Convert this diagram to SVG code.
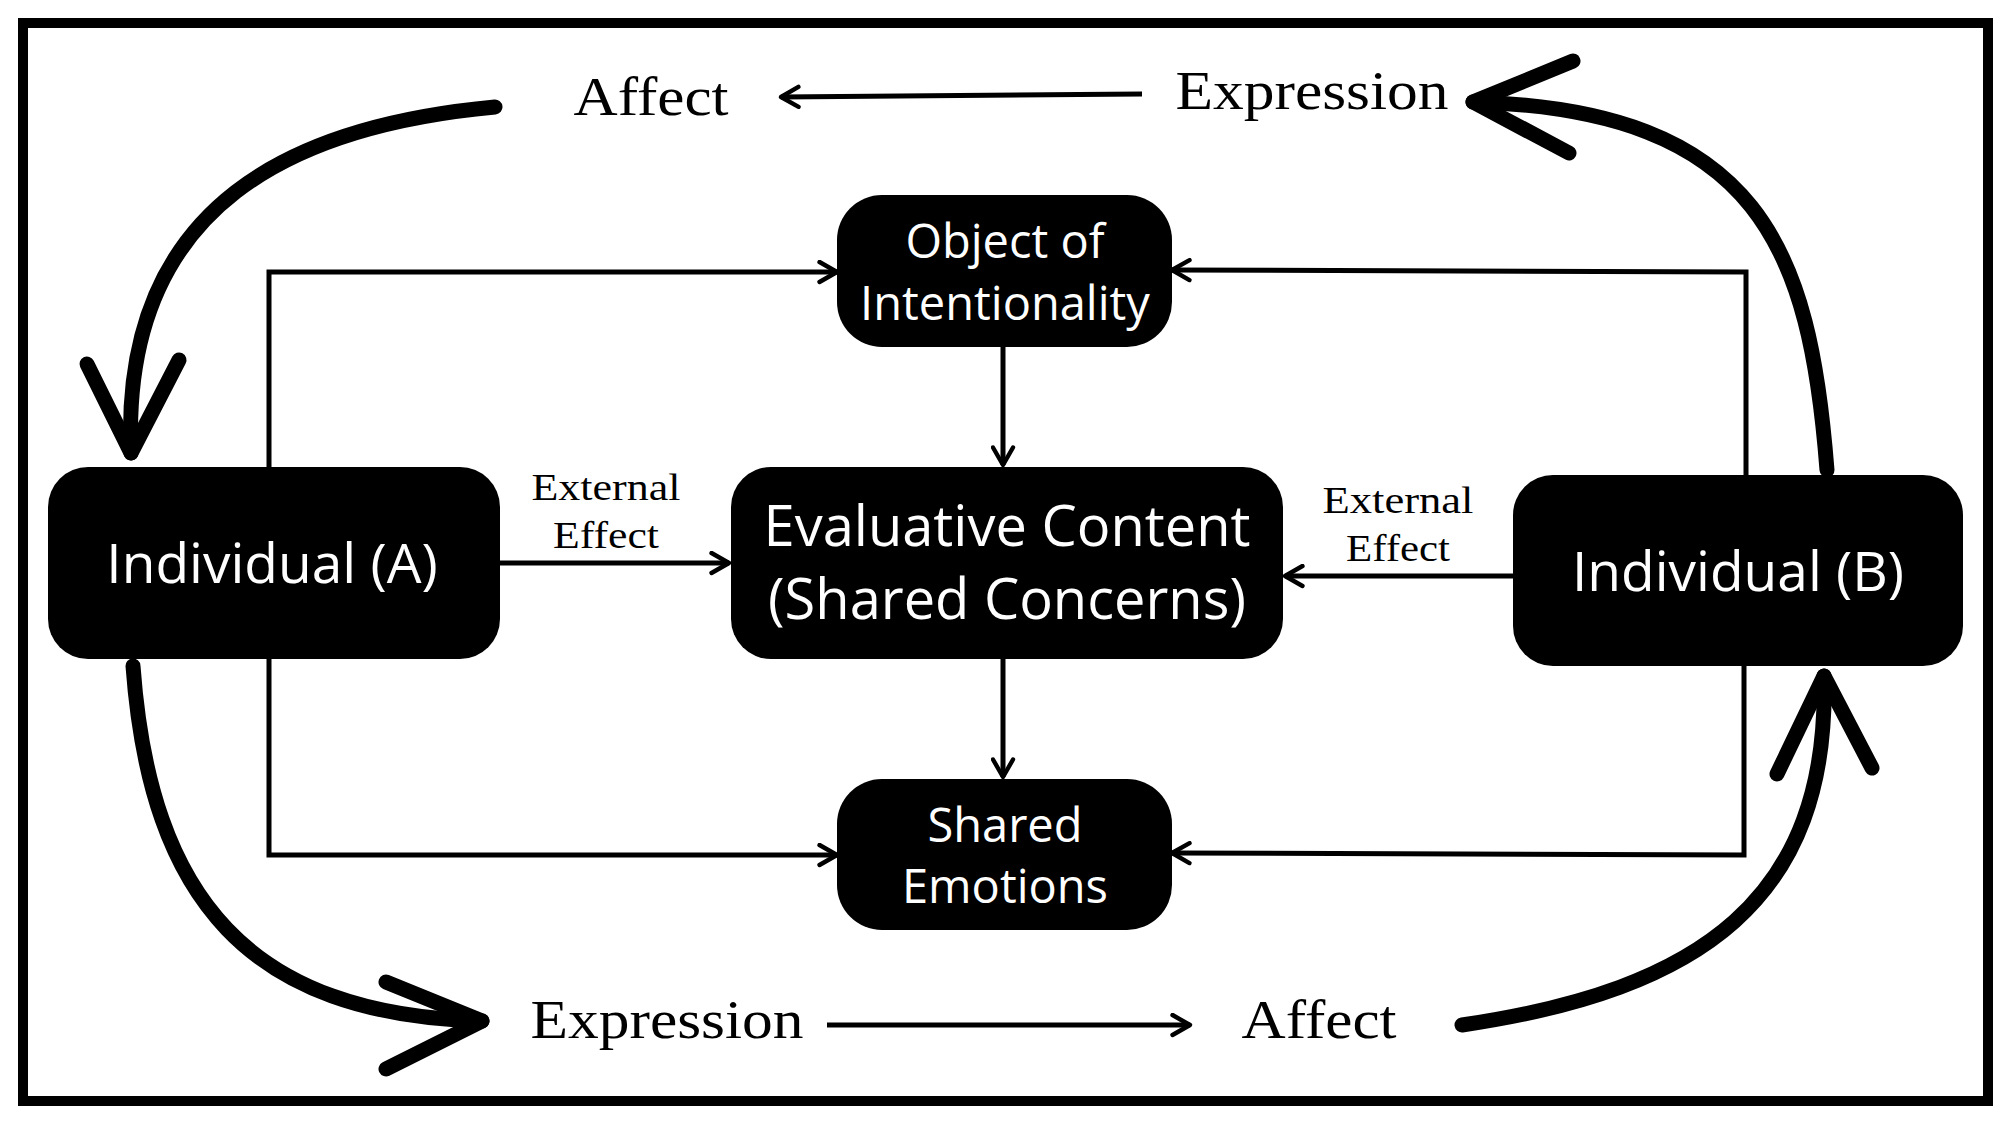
<svg xmlns="http://www.w3.org/2000/svg" width="2000" height="1128" viewBox="0 0 2000 1128">
<style>
.node{fill:#000}
.nt{fill:#fff;font-family:"Open Sans","DejaVu Sans",sans-serif;text-anchor:middle}
.lb{fill:#000;font-family:"Liberation Serif","DejaVu Serif",serif;text-anchor:middle}
.thin{fill:none;stroke:#000;stroke-width:5;marker-end:url(#ah)}
.thick{fill:none;stroke:#000;stroke-width:15;stroke-linecap:round;stroke-linejoin:round}
</style>
<defs>
<marker id="ah" viewBox="0 0 20 20" refX="18" refY="10" markerWidth="5" markerHeight="5" orient="auto" markerUnits="strokeWidth">
<polyline points="4,2 18,10 4,18" fill="none" stroke="#000" stroke-width="3.5" stroke-linecap="round" stroke-linejoin="round"/>
</marker>
</defs>
<rect width="2000" height="1128" fill="#fff"/>
<rect x="23" y="23" width="1965" height="1078" fill="none" stroke="#000" stroke-width="10"/>
<g id="connectors">
<polyline class="thin" points="269,467 269,272 837,272"/>
<polyline class="thin" points="1746,475 1746,272 1172,270"/>
<polyline class="thin" points="269,659 269,855 837,855"/>
<polyline class="thin" points="1744,666 1744,855 1172,853"/>
<line class="thin" x1="1003" y1="347" x2="1003" y2="465"/>
<line class="thin" x1="1003" y1="659" x2="1003" y2="777"/>
<line class="thin" x1="500" y1="563" x2="729" y2="563"/>
<line class="thin" x1="1513" y1="576" x2="1285" y2="576"/>
<line class="thin" x1="1142" y1="94" x2="781" y2="97"/>
<line class="thin" x1="827" y1="1025" x2="1190" y2="1025"/>
<path class="thick" d="M495,107 C300,125 120,200 131,453"/>
<polyline class="thick" points="87,364 131,453 179,360"/>
<path class="thick" d="M133,666 C150,900 250,1015 482,1021"/>
<polyline class="thick" points="386,982 482,1021 386,1069"/>
<path class="thick" d="M1462,1025 C1700,990 1830,900 1824,676"/>
<polyline class="thick" points="1777,774 1824,676 1872,768"/>
<path class="thick" d="M1827,470 C1810,250 1760,110 1473,102"/>
<polyline class="thick" points="1573,61 1473,102 1569,153"/>
</g>
<g id="individualA"><rect class="node" x="48" y="467" width="452" height="192" rx="40"/><text class="nt" x="272" y="583" font-size="55">Individual (A)</text></g>
<g id="evaluative"><rect class="node" x="731" y="467" width="552" height="192" rx="40"/><text class="nt" x="1007" y="546" font-size="56">Evaluative Content</text><text class="nt" x="1007" y="619" font-size="56">(Shared Concerns)</text></g>
<g id="individualB"><rect class="node" x="1513" y="475" width="450" height="191" rx="40"/><text class="nt" x="1738" y="591" font-size="55">Individual (B)</text></g>
<g id="object"><rect class="node" x="837" y="195" width="335" height="152" rx="45"/><text class="nt" x="1005" y="258" font-size="47">Object of</text><text class="nt" x="1005" y="320" font-size="47">Intentionality</text></g>
<g id="shared"><rect class="node" x="837" y="779" width="335" height="151" rx="45"/><text class="nt" x="1005" y="842" font-size="47">Shared</text><text class="nt" x="1005" y="903" font-size="47">Emotions</text></g>
<g id="labels">
<text class="lb" x="651" y="115" font-size="55" textLength="155" lengthAdjust="spacingAndGlyphs">Affect</text>
<text class="lb" x="1312" y="109" font-size="55" textLength="273" lengthAdjust="spacingAndGlyphs">Expression</text>
<text class="lb" x="667" y="1038" font-size="55" textLength="273" lengthAdjust="spacingAndGlyphs">Expression</text>
<text class="lb" x="1319" y="1038" font-size="55" textLength="155" lengthAdjust="spacingAndGlyphs">Affect</text>
<text class="lb" x="606" y="500" font-size="37" textLength="149" lengthAdjust="spacingAndGlyphs">External</text>
<text class="lb" x="606" y="548" font-size="37" textLength="106" lengthAdjust="spacingAndGlyphs">Effect</text>
<text class="lb" x="1398" y="513" font-size="37" textLength="151" lengthAdjust="spacingAndGlyphs">External</text>
<text class="lb" x="1398" y="561" font-size="37" textLength="104" lengthAdjust="spacingAndGlyphs">Effect</text>
</g>
</svg>
